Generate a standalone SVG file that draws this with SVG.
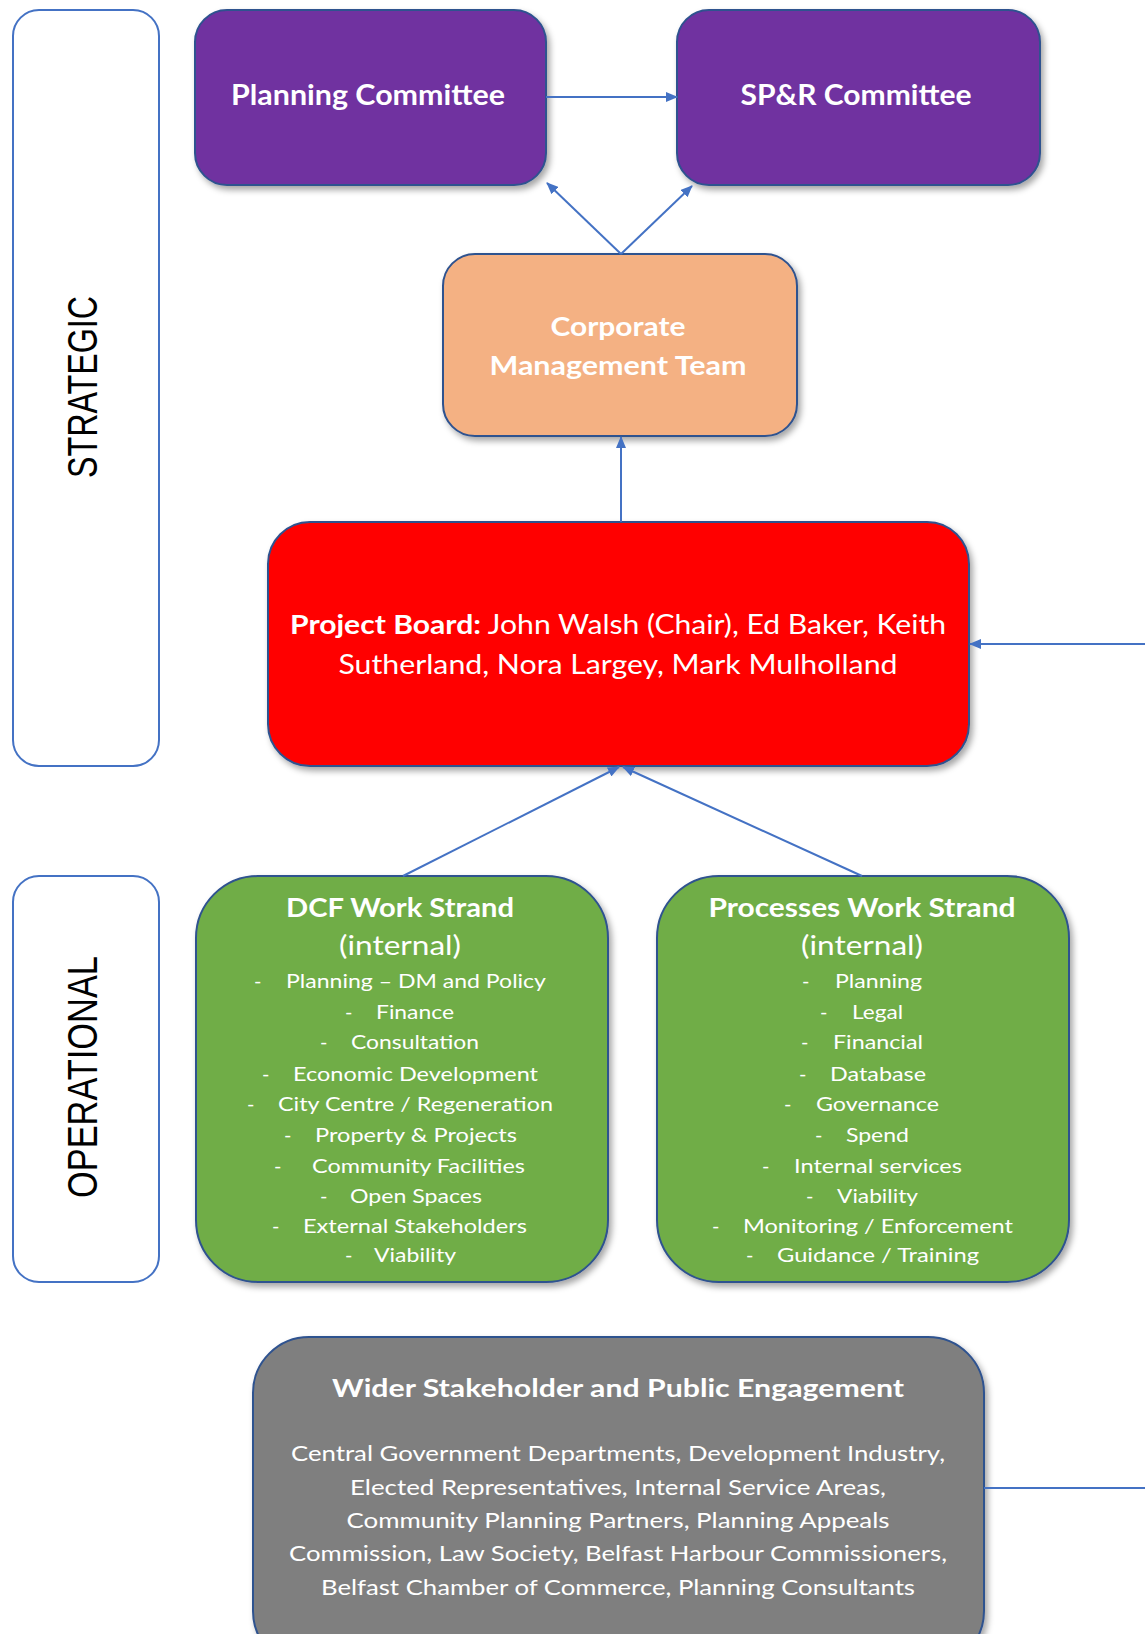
<svg xmlns="http://www.w3.org/2000/svg" width="1145" height="1634" viewBox="0 0 1145 1634">
<style>
.node{stroke:#2F528F;stroke-width:2;filter:url(#sh)}
.side{fill:#FFFFFF;stroke:#4472C4;stroke-width:2}
.t{font-family:Lato,"Liberation Sans",sans-serif;fill:#FFFFFF;text-anchor:middle}
.b{font-weight:bold}
.it{font-family:Lato,"Liberation Sans",sans-serif;fill:#FFFFFF;font-size:20px}
.band{font-family:"Liberation Sans",Arial,sans-serif;fill:#000000;font-size:32px;text-anchor:middle}
.con{stroke:#4472C4;stroke-width:2;fill:none}
</style>
<defs>
<filter id="sh" x="-10%" y="-10%" width="125%" height="130%">
<feDropShadow dx="3" dy="4" stdDeviation="3" flood-color="#000000" flood-opacity="0.35"/>
</filter>
<marker id="ah" markerWidth="12" markerHeight="10" refX="11" refY="5" orient="auto" markerUnits="userSpaceOnUse">
<path d="M0,0 L12,5 L0,10 Z" fill="#4472C4"/>
</marker>
</defs>

<g id="strategic-band">
<rect class="side" x="13" y="10" width="146" height="756" rx="26"/>
<text class="band" transform="translate(97,387) rotate(-90) scale(1,1.3)" textLength="182" lengthAdjust="spacingAndGlyphs">STRATEGIC</text>
</g>
<g id="operational-band">
<rect class="side" x="13" y="876" width="146" height="406" rx="26"/>
<text class="band" transform="translate(97,1077) rotate(-90) scale(1,1.3)" textLength="242" lengthAdjust="spacingAndGlyphs">OPERATIONAL</text>
</g>

<g id="planning-committee">
<rect class="node" x="195" y="10" width="351" height="175" rx="32" fill="#7030A0"/>
<text class="t b" x="368" y="105" font-size="28" textLength="274" lengthAdjust="spacingAndGlyphs">Planning Committee</text>
</g>
<g id="spr-committee">
<rect class="node" x="677" y="10" width="363" height="175" rx="32" fill="#7030A0"/>
<text class="t b" x="856" y="105" font-size="28" textLength="231" lengthAdjust="spacingAndGlyphs">SP&amp;R Committee</text>
</g>
<g id="corporate-management-team">
<rect class="node" x="443" y="254" width="354" height="182" rx="32" fill="#F4B183"/>
<text class="t b" x="618" y="336" font-size="26" textLength="135" lengthAdjust="spacingAndGlyphs">Corporate</text>
<text class="t b" x="618" y="375" font-size="26" textLength="257" lengthAdjust="spacingAndGlyphs">Management Team</text>
</g>
<g id="project-board">
<rect class="node" x="268" y="522" width="701" height="244" rx="42" fill="#FF0000"/>
<text class="t" x="618" y="634" font-size="26" textLength="656" lengthAdjust="spacingAndGlyphs"><tspan font-weight="bold">Project Board:</tspan> John Walsh (Chair), Ed Baker, Keith</text>
<text class="t" x="618" y="674" font-size="26" textLength="559" lengthAdjust="spacingAndGlyphs">Sutherland, Nora Largey, Mark Mulholland</text>
</g>

<g id="dcf-work-strand">
<rect class="node" x="196" y="876" width="412" height="406" rx="62" fill="#70AD47"/>
<text class="t b" x="400" y="917" font-size="26" textLength="228" lengthAdjust="spacingAndGlyphs">DCF Work Strand</text>
<text class="t" x="400" y="955" font-size="27" textLength="122" lengthAdjust="spacingAndGlyphs">(internal)</text>
<text class="it" x="254" y="988">-</text><text class="it" x="286" y="988" textLength="260" lengthAdjust="spacingAndGlyphs">Planning – DM and Policy</text>
<text class="it" x="345" y="1019">-</text><text class="it" x="376" y="1019" textLength="78" lengthAdjust="spacingAndGlyphs">Finance</text>
<text class="it" x="320" y="1049">-</text><text class="it" x="351" y="1049" textLength="128" lengthAdjust="spacingAndGlyphs">Consultation</text>
<text class="it" x="262" y="1081">-</text><text class="it" x="293" y="1081" textLength="245" lengthAdjust="spacingAndGlyphs">Economic Development</text>
<text class="it" x="247" y="1111">-</text><text class="it" x="278" y="1111" textLength="275" lengthAdjust="spacingAndGlyphs">City Centre / Regeneration</text>
<text class="it" x="284" y="1142">-</text><text class="it" x="315" y="1142" textLength="202" lengthAdjust="spacingAndGlyphs">Property &amp; Projects</text>
<text class="it" x="274" y="1173">-</text><text class="it" x="312" y="1173" textLength="213" lengthAdjust="spacingAndGlyphs">Community Facilities</text>
<text class="it" x="320" y="1203">-</text><text class="it" x="350" y="1203" textLength="132" lengthAdjust="spacingAndGlyphs">Open Spaces</text>
<text class="it" x="272" y="1233">-</text><text class="it" x="303" y="1233" textLength="224" lengthAdjust="spacingAndGlyphs">External Stakeholders</text>
<text class="it" x="345" y="1262">-</text><text class="it" x="374" y="1262" textLength="82" lengthAdjust="spacingAndGlyphs">Viability</text>
</g>

<g id="processes-work-strand">
<rect class="node" x="657" y="876" width="412" height="406" rx="62" fill="#70AD47"/>
<text class="t b" x="862" y="917" font-size="26" textLength="307" lengthAdjust="spacingAndGlyphs">Processes Work Strand</text>
<text class="t" x="862" y="955" font-size="27" textLength="122" lengthAdjust="spacingAndGlyphs">(internal)</text>
<text class="it" x="802" y="988">-</text><text class="it" x="835" y="988" textLength="87" lengthAdjust="spacingAndGlyphs">Planning</text>
<text class="it" x="820" y="1019">-</text><text class="it" x="852" y="1019" textLength="51" lengthAdjust="spacingAndGlyphs">Legal</text>
<text class="it" x="801" y="1049">-</text><text class="it" x="833" y="1049" textLength="90" lengthAdjust="spacingAndGlyphs">Financial</text>
<text class="it" x="799" y="1081">-</text><text class="it" x="830" y="1081" textLength="96" lengthAdjust="spacingAndGlyphs">Database</text>
<text class="it" x="784" y="1111">-</text><text class="it" x="816" y="1111" textLength="123" lengthAdjust="spacingAndGlyphs">Governance</text>
<text class="it" x="815" y="1142">-</text><text class="it" x="846" y="1142" textLength="63" lengthAdjust="spacingAndGlyphs">Spend</text>
<text class="it" x="762" y="1173">-</text><text class="it" x="794" y="1173" textLength="168" lengthAdjust="spacingAndGlyphs">Internal services</text>
<text class="it" x="806" y="1203">-</text><text class="it" x="837" y="1203" textLength="81" lengthAdjust="spacingAndGlyphs">Viability</text>
<text class="it" x="712" y="1233">-</text><text class="it" x="743" y="1233" textLength="270" lengthAdjust="spacingAndGlyphs">Monitoring / Enforcement</text>
<text class="it" x="746" y="1262">-</text><text class="it" x="777" y="1262" textLength="202" lengthAdjust="spacingAndGlyphs">Guidance / Training</text>
</g>

<g id="wider-stakeholder-engagement">
<rect class="node" x="253" y="1337" width="731" height="330" rx="56" fill="#7F7F7F"/>
<text class="t b" x="618" y="1397" font-size="25" textLength="572" lengthAdjust="spacingAndGlyphs">Wider Stakeholder and Public Engagement</text>
<text class="t" x="618" y="1461" font-size="21" textLength="654" lengthAdjust="spacingAndGlyphs">Central Government Departments, Development Industry,</text>
<text class="t" x="618" y="1495" font-size="21" textLength="536" lengthAdjust="spacingAndGlyphs">Elected Representatives, Internal Service Areas,</text>
<text class="t" x="618" y="1528" font-size="21" textLength="543" lengthAdjust="spacingAndGlyphs">Community Planning Partners, Planning Appeals</text>
<text class="t" x="618" y="1561" font-size="21" textLength="658" lengthAdjust="spacingAndGlyphs">Commission, Law Society, Belfast Harbour Commissioners,</text>
<text class="t" x="618" y="1595" font-size="21" textLength="594" lengthAdjust="spacingAndGlyphs">Belfast Chamber of Commerce, Planning Consultants</text>
</g>

<g id="connectors">
<line class="con" x1="546" y1="97" x2="677" y2="97" marker-end="url(#ah)"/>
<line class="con" x1="621" y1="254" x2="547" y2="183" marker-end="url(#ah)"/>
<line class="con" x1="621" y1="254" x2="692" y2="186" marker-end="url(#ah)"/>
<line class="con" x1="621" y1="522" x2="621" y2="437" marker-end="url(#ah)"/>
<line class="con" x1="403" y1="876" x2="619" y2="767" marker-end="url(#ah)"/>
<line class="con" x1="862" y1="876" x2="623" y2="767" marker-end="url(#ah)"/>
<line class="con" x1="1145" y1="644" x2="970" y2="644" marker-end="url(#ah)"/>
<line class="con" x1="984" y1="1488" x2="1145" y2="1488"/>
</g>
</svg>
